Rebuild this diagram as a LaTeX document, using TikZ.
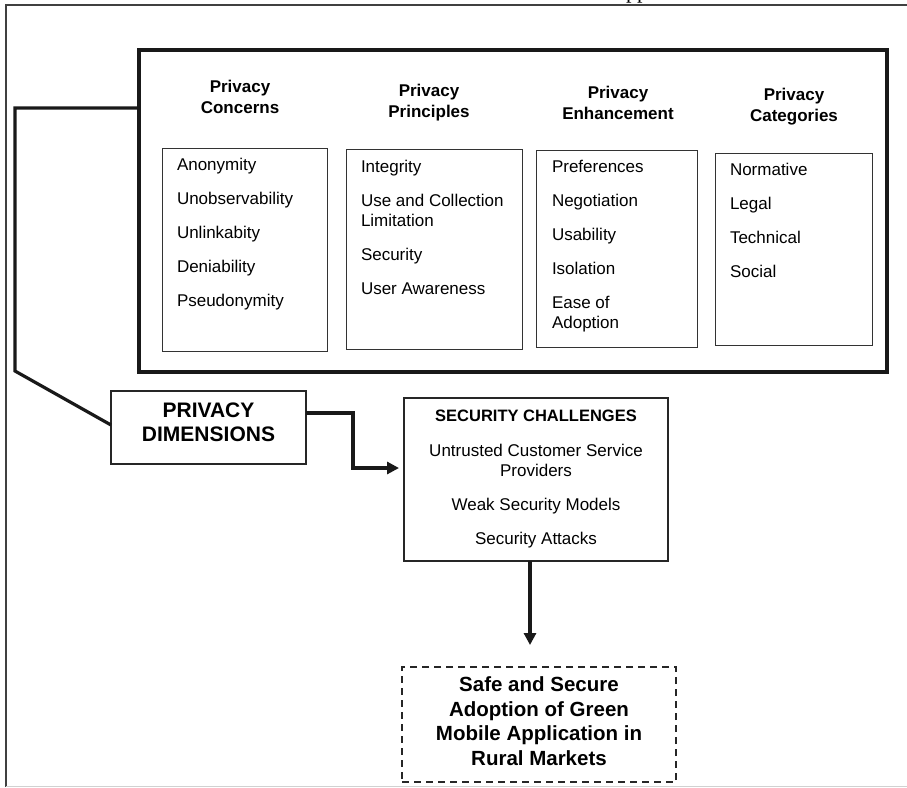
\documentclass[tikz,border=0pt]{standalone}
\usepackage{fontspec}
\setmainfont{Liberation Sans}
\newfontfamily\myserif{Liberation Serif}
\usetikzlibrary{arrows.meta}
\newcommand\myitemfont{\fontsize{17}{20}\selectfont}
\newcommand\myheadfont{\bfseries\fontsize{17}{21}\selectfont}
\newcommand\mypdfont{\bfseries\fontsize{21}{24}\selectfont}
\newcommand\mysecfont{\bfseries\fontsize{16.5}{20}\selectfont}
\newcommand\mysafefont{\bfseries\fontsize{20.5}{24.5}\selectfont}
\begin{document}
\begin{tikzpicture}[x=1pt,y=-1pt,
  every node/.style={inner sep=0pt, outer sep=0pt},
  thinbox/.style={draw=black!80, line width=1pt, anchor=north west},
  midbox/.style={draw=black!85, line width=1.4pt, anchor=north west},
  thickbox/.style={draw=black!90, line width=4.5pt, anchor=north west},
  conn/.style={draw=black!90, line width=3.2pt, line join=miter},
  arr/.style={conn, -{Triangle[length=12pt,width=12pt]}},
  item/.style={anchor=base west, align=left, font=\myitemfont},
  head/.style={anchor=base, align=center, font=\myheadfont},
]
\useasboundingbox (0,0) rectangle (907,787);
\fill[white] (0,0) rectangle (907,787);

% outer frame
\draw[line width=1.5pt, black!75] (907,5) -- (6,5) -- (6,787);
\draw[black!18, line width=1pt] (6,786) -- (907,786);
\node[font=\myserif\fontsize{22}{24}\selectfont, anchor=base] (pp) at (637,-1.5) {pp};

% big box
\node[thickbox, minimum width=748pt, minimum height=322pt] (priv) at (139,50) {};

% inner boxes
\node[thinbox, minimum width=165pt, minimum height=203pt] (conc) at (162,148) {};
\node[thinbox, minimum width=176pt, minimum height=200pt] (prin) at (346,149) {};
\node[thinbox, minimum width=161pt, minimum height=197pt] (enh) at (536,150) {};
\node[thinbox, minimum width=157pt, minimum height=192pt] (cat) at (715,153) {};

% headers (anchor = baseline of last line)
\node[head] (hconc) at (240,113) {Privacy\\Concerns};
\node[head] (hprin) at (429,117) {Privacy\\Principles};
\node[head] (henh) at (618,119) {Privacy\\Enhancement};
\node[head] (hcat) at (794,121) {Privacy\\Categories};

% items (anchor = baseline of last line)
\node[item] (iconc) at (177,306) {Anonymity\\[14pt]Unobservability\\[14pt]Unlinkabity\\[14pt]Deniability\\[14pt]Pseudonymity};
\node[item] (iprin) at (361,294) {Integrity\\[14pt]Use and Collection\\Limitation\\[14pt]Security\\[14pt]User Awareness};
\node[item] (ienh) at (552,328) {Preferences\\[14pt]Negotiation\\[14pt]Usability\\[14pt]Isolation\\[14pt]Ease of\\Adoption};
\node[item] (icat) at (730,277) {Normative\\[14pt]Legal\\[14pt]Technical\\[14pt]Social};

% privacy dimensions
\node[midbox, minimum width=195pt, minimum height=73pt] (pd) at (111,391) {};
\node[anchor=base, align=center, font=\mypdfont] (tpd) at (208.5,441) {PRIVACY\\DIMENSIONS};

% security challenges
\node[midbox, minimum width=264pt, minimum height=163pt] (sec) at (404,398) {};
\node[anchor=base, font=\mysecfont] (tsec) at (536,421) {SECURITY CHALLENGES};
\node[anchor=base, align=center, font=\myitemfont] (isec) at (536,544) {Untrusted Customer Service\\Providers\\[14pt]Weak Security Models\\[14pt]Security Attacks};

% safe box
\node[midbox, dash pattern=on 7pt off 5pt, minimum width=274pt, minimum height=115pt] (safe) at (402,667) {};
\node[anchor=base, align=center, font=\mysafefont] (tsafe) at (539,765) {Safe and Secure\\Adoption of Green\\Mobile Application in\\Rural Markets};

% connectors
\coordinate (k1) at (15,108);
\coordinate (k2) at (15,371);
\coordinate (k3) at (0,425);
\draw[conn] (priv.west |- k1) -- (k1) -- (k2) -- (pd.west |- k3);

\coordinate (k4) at (353,413);
\coordinate (k5) at (353,468);
\draw[arr] (pd.east |- k4) -- (k4) -- (k5) -- ([xshift=-5pt]sec.west |- k5);

\coordinate (k6) at (530,645);
\draw[arr, shorten >=22pt] (sec.south -| k6) -- (safe.north -| k6);
\end{tikzpicture}
\end{document}
